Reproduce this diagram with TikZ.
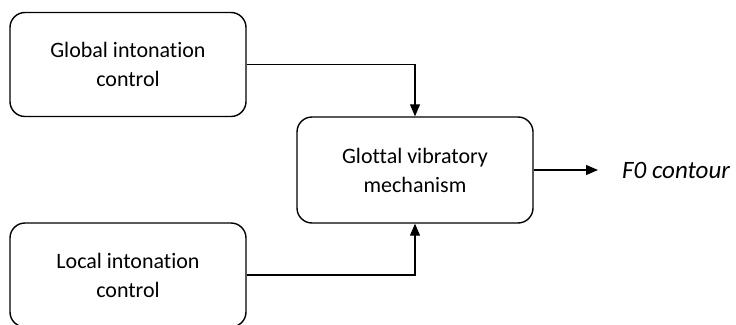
\documentclass[tikz,border=0pt]{standalone}
\usepackage{fontspec}
\setmainfont[Ligatures={NoCommon}]{Carlito}
\usetikzlibrary{arrows.meta}
\begin{document}
\begin{tikzpicture}[x=1pt,y=-1pt,
  blockbox/.style={draw=black, line width=1.4pt, rounded corners=15pt, minimum width=236pt, minimum height=104pt, inner sep=0pt, align=center, font=\fontsize{22}{29}\selectfont},
  conn/.style={line width=1.2pt, -{Triangle[length=12pt,width=10pt]}}]
\useasboundingbox (0,0) rectangle (736,324);
\begin{scope}
\clip (0,0) rectangle (736,324);
\node[blockbox] (glob) at (128,64.5) {Global intonation\\control};
\node[blockbox, minimum height=106pt] (glot) at (415,170) {Glottal vibratory\\mechanism};
\node[blockbox] (loc) at (128,275) {Local intonation\\control};
\coordinate (outend) at (598,170);
\node[anchor=west, inner sep=0pt, font=\fontsize{25}{30}\selectfont\itshape] (f0) at (622,170) {F0 contour};
\draw[conn] (glob.east) -| (glot.north);
\draw[conn] (loc.east) -| (glot.south);
\draw[conn] (glot.east) -- (outend);
\end{scope}
\end{tikzpicture}
\end{document}
